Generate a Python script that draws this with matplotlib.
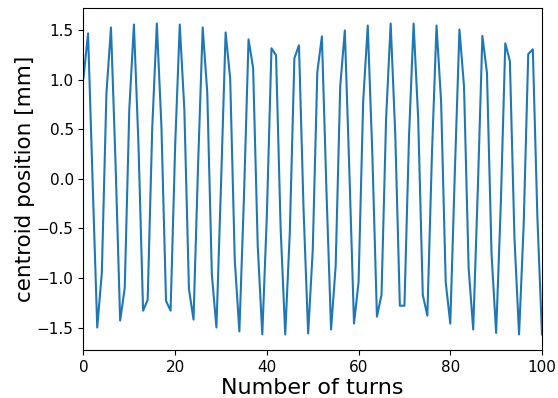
import matplotlib
matplotlib.use("Agg")
import matplotlib.pyplot as plt

turns = list(range(101))
centroid_mm = [
    1.02, 1.47, -0.04, -1.50, -0.95, 0.86, 1.53, 0.15, -1.43, -1.10,
    0.71, 1.56, 0.34, -1.33, -1.22, 0.52, 1.57, 0.53, -1.23, -1.33,
    0.34, 1.56, 0.70, -1.11, -1.42, 0.15, 1.53, 0.87, -0.97, -1.50,
    -0.05, 1.48, 1.01, -0.82, -1.54, -0.18, 1.41, 1.12, -0.67, -1.57,
    -0.36, 1.32, 1.25, -0.50, -1.57, -0.54, 1.22, 1.35, -0.31, -1.56,
    -0.72, 1.08, 1.44, -0.13, -1.52, -0.88, 0.94, 1.50, 0.06, -1.46,
    -1.04, 0.78, 1.55, 0.25, -1.39, -1.17, 0.61, 1.57, 0.45, -1.28,
    -1.28, 0.43, 1.57, 0.61, -1.17, -1.38, 0.25, 1.55, 0.78, -1.04,
    -1.46, 0.08, 1.51, 0.93, -0.90, -1.52, -0.11, 1.445, 1.07, -0.76,
    -1.555, -0.28, 1.37, 1.19, -0.60, -1.57, -0.47, 1.26, 1.31, -0.39,
    -1.57,
]

fig = plt.figure(figsize=(5.58, 3.98), dpi=100)
ax = fig.add_axes([0.1496, 0.1206, 0.8217, 0.8594])
ax.plot(turns, centroid_mm, color="#1f77b4", linewidth=1.5)
ax.set_xlim(0, 100)
ax.margins(y=0.05)
ax.set_xticks([0, 20, 40, 60, 80, 100])
ax.set_yticks([-1.5, -1.0, -0.5, 0.0, 0.5, 1.0, 1.5])
ax.tick_params(labelsize=11)
ax.set_xlabel("Number of turns", fontsize=16, labelpad=2)
ax.set_ylabel("centroid position [mm]", fontsize=15.5, labelpad=1)
fig.savefig("out.png", dpi=100)
